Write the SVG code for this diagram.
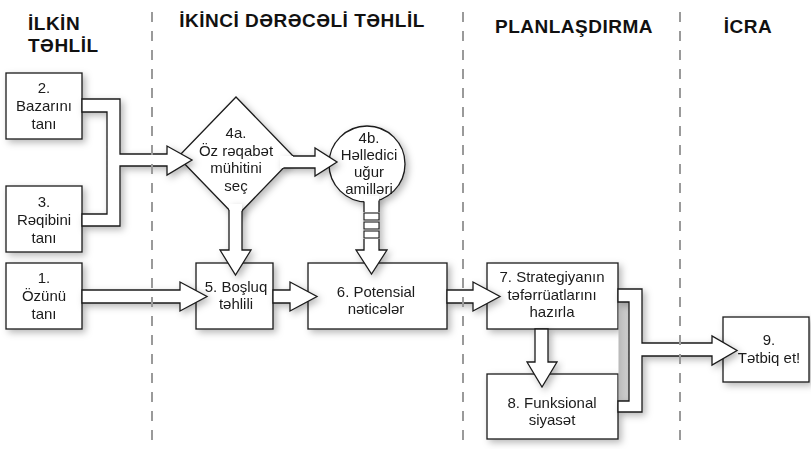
<svg xmlns="http://www.w3.org/2000/svg" width="811" height="449" viewBox="0 0 811 449">
<style>
  .bg { fill: #ffffff; }
  .node { fill: #ffffff; stroke: #1a1a1a; stroke-width: 1.3; }
  .cfill { fill: #ffffff; stroke: none; }
  .cline { fill: none; stroke: #1a1a1a; stroke-width: 1.3; stroke-linejoin: miter; }
  .rung { fill: #ffffff; stroke: #1a1a1a; stroke-width: 1.1; }
  .conn { fill: #ffffff; stroke: #1a1a1a; stroke-width: 1.3; stroke-linejoin: miter; }
  .t { font-family: "Liberation Sans", Arial, sans-serif; font-size: 15px; fill: #1a1a1a; text-anchor: middle; }
  .h { font-family: "Liberation Sans", Arial, sans-serif; font-size: 19px; font-weight: bold; fill: #111111; letter-spacing: 0.5px; }
  .sep { stroke: #9a9a9a; stroke-width: 2; stroke-dasharray: 10 9; fill: none; }
</style>
<defs>
  <filter id="sh" x="-20%" y="-20%" width="150%" height="150%">
    <feDropShadow dx="3" dy="3" stdDeviation="3.5" flood-color="#000000" flood-opacity="0.28"/>
  </filter>
  <linearGradient id="gap" x1="0" y1="0" x2="1" y2="0">
    <stop offset="0" stop-color="#b8b8b8"/>
    <stop offset="1" stop-color="#d4d4d4"/>
  </linearGradient>
</defs>
<rect class="bg" x="0" y="0" width="811" height="449"/>

<g id="headers">
  <text class="h" x="28" y="30">İLKİN</text>
  <text class="h" x="28" y="52">TƏHLİL</text>
  <text class="h" x="302" y="27" text-anchor="middle">İKİNCİ DƏRƏCƏLİ TƏHLİL</text>
  <text class="h" x="574" y="33" text-anchor="middle">PLANLAŞDIRMA</text>
  <text class="h" x="748" y="33" text-anchor="middle">İCRA</text>
</g>

<g id="node2" filter="url(#sh)">
  <rect class="node" x="6" y="73" width="76" height="66"/>
  <text class="t" x="44" y="93">2.</text>
  <text class="t" x="44" y="111">Bazarını</text>
  <text class="t" x="44" y="129">tanı</text>
</g>
<g id="node3" filter="url(#sh)">
  <rect class="node" x="6" y="186" width="76" height="66"/>
  <text class="t" x="44" y="207">3.</text>
  <text class="t" x="44" y="225">Rəqibini</text>
  <text class="t" x="44" y="243">tanı</text>
</g>
<g id="node1" filter="url(#sh)">
  <rect class="node" x="6" y="263" width="76" height="66"/>
  <text class="t" x="44" y="283">1.</text>
  <text class="t" x="44" y="301">Özünü</text>
  <text class="t" x="44" y="319">tanı</text>
</g>
<g id="node4a" filter="url(#sh)">
  <polygon class="node" points="236,97 294,157 236,217 178,157"/>
  <text class="t" x="236" y="138">4a.</text>
  <text class="t" x="236" y="155.5">Öz rəqabət</text>
  <text class="t" x="236" y="173">mühitini</text>
  <text class="t" x="236" y="190.5">seç</text>
</g>
<g id="node4b" filter="url(#sh)">
  <circle class="node" cx="367" cy="164" r="38"/>
  <text class="t" x="369" y="143">4b.</text>
  <text class="t" x="369" y="160">Həlledici</text>
  <text class="t" x="369" y="177">uğur</text>
  <text class="t" x="369" y="194">amilləri</text>
</g>
<g id="node5" filter="url(#sh)">
  <rect class="node" x="196" y="263" width="77" height="66"/>
  <text class="t" x="236" y="292">5. Boşluq</text>
  <text class="t" x="236" y="309">təhlili</text>
</g>
<g id="node6" filter="url(#sh)">
  <rect class="node" x="308" y="263" width="139" height="66"/>
  <text class="t" x="376" y="297">6. Potensial</text>
  <text class="t" x="376" y="314">nəticələr</text>
</g>
<g id="node7" filter="url(#sh)">
  <rect class="node" x="487" y="263" width="131" height="66"/>
  <text class="t" x="552" y="282">7. Strategiyanın</text>
  <text class="t" x="552" y="300">təfərrüatlarını</text>
  <text class="t" x="552" y="317">hazırla</text>
</g>
<g id="node8" filter="url(#sh)">
  <rect class="node" x="487" y="374" width="131" height="65"/>
  <text class="t" x="552" y="408">8. Funksional</text>
  <text class="t" x="552" y="425">siyasət</text>
</g>
<g id="node9" filter="url(#sh)">
  <rect class="node" x="723" y="317" width="86" height="65"/>
  <text class="t" x="769" y="345">9.</text>
  <text class="t" x="769" y="363">Tətbiq et!</text>
</g>

<g id="connectors">
  <!-- 2 & 3 to 4a -->
  <path class="conn" filter="url(#sh)" d="M82,99 H120 V154 H167 V146 L192,160 L167,175 V166 H120 V226 H82 V214 H107 V112 H82 Z"/>
  <!-- 4a to 4b -->
  <g filter="url(#sh)">
    <path class="cfill" d="M280,156 H315 V148 L337,162 L315,176 V168 H280 Z"/>
    <path class="cline" d="M293,156 H315 V148 L337,162 L315,176 V168 H283.4"/>
  </g>
  <!-- 4a to 5 -->
  <g filter="url(#sh)">
    <path class="cfill" d="M229,204 H242 V250 H251 L235.5,275 L220,250 H229 Z"/>
    <path class="cline" d="M229,209.8 V250 H220 L235.5,275 L251,250 H242 V210.8"/>
  </g>
  <!-- 4b to 6 (dashed fat arrow) -->
  <g filter="url(#sh)">
    <path class="cfill" d="M364,196 H379 V250 H387 L371.5,274 L356,250 H364 Z"/>
    <path class="cline" d="M364,201.5 V212 M379,200.5 V212"/>
    <rect class="rung" x="364" y="213" width="15" height="7"/>
    <rect class="rung" x="364" y="222" width="15" height="7"/>
    <rect class="rung" x="364" y="231" width="15" height="7"/>
    <path class="cline" d="M364,239 V250 H356 L371.5,274 L387,250 H379 V239"/>
  </g>
  <!-- 1 to 5 -->
  <path class="conn" filter="url(#sh)" d="M82,290 H180 V282 L207,296.5 L180,311 V303 H82 Z"/>
  <!-- 5 to 6 -->
  <path class="conn" filter="url(#sh)" d="M273,290 H290 V282 L317,296.5 L290,311 V303 H273 Z"/>
  <!-- 6 to 7 -->
  <path class="conn" filter="url(#sh)" d="M447,290 H473 V282 L500,296.5 L473,311 V303 H447 Z"/>
  <!-- 7 to 8 -->
  <path class="conn" filter="url(#sh)" d="M535,329 V362 H527 L542,387 L557,362 H548 V329 Z"/>
  <!-- 7 & 8 to 9 -->
  <rect x="618.5" y="302" width="10.5" height="99" fill="url(#gap)"/>
  <path class="conn" filter="url(#sh)" d="M618,289 H642 V343 H712 V336 L737,350.5 L712,365 V356 H642 V412 H618 V401 H629 V302 H618 Z"/>
</g>

<g id="separators">
  <line class="sep" x1="152" y1="12" x2="152" y2="449"/>
  <line class="sep" x1="463" y1="12" x2="463" y2="449"/>
  <line class="sep" x1="680" y1="12" x2="680" y2="449"/>
</g>
</svg>
